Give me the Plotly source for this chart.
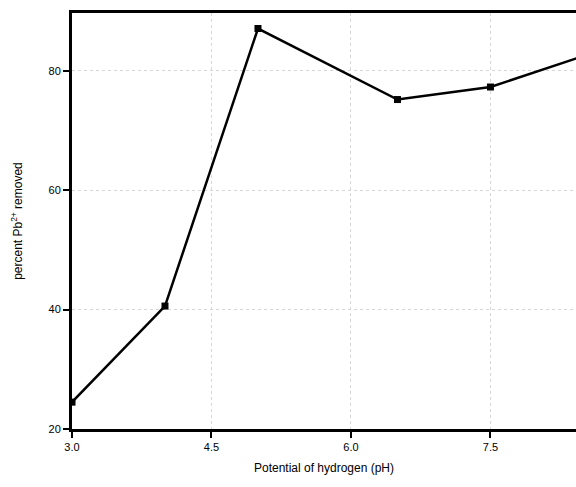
import plotly.graph_objects as go

ph = [3.0, 4.0, 5.0, 6.5, 7.5, 8.5]
pb_removed = [24.5, 40.6, 87.1, 75.2, 77.3, 82.5]
x_ticks = [3.0, 4.5, 6.0, 7.5]
x_tick_labels = ["3.0", "4.5", "6.0", "7.5"]
y_ticks = [20, 40, 60, 80]

fig = go.Figure()
fig.add_trace(go.Scatter(
    x=ph, y=pb_removed, mode="lines+markers",
    line=dict(color="black", width=2.5),
    marker=dict(symbol="square", size=7, color="black"),
    showlegend=False,
))

font = dict(family="Liberation Sans, Arial, sans-serif", color="black")
fig.update_layout(
    width=576, height=487,
    margin=dict(l=72, r=0, t=13, b=58),
    plot_bgcolor="white", paper_bgcolor="white",
    font=dict(size=11, **font),
    xaxis=dict(
        range=[3.0, 8.42], tickvals=x_ticks, ticktext=x_tick_labels,
        showline=True, linecolor="black", linewidth=3, mirror=True,
        ticks="outside", ticklen=6, tickwidth=2, tickcolor="black",
        showgrid=True, gridcolor="#d6d6d6", griddash="dot", gridwidth=1,
        zeroline=False, automargin=False,
        title=dict(text="Potential of hydrogen (pH)", font=dict(size=12, **font), standoff=12),
    ),
    yaxis=dict(
        range=[20, 89.7], tickvals=y_ticks,
        showline=True, linecolor="black", linewidth=3, mirror=True,
        ticks="outside", ticklen=6, tickwidth=2, tickcolor="black",
        showgrid=True, gridcolor="#d6d6d6", griddash="dot", gridwidth=1,
        zeroline=False, automargin=False,
        title=dict(text="percent Pb<sup>2+</sup> removed", font=dict(size=12, **font), standoff=24),
    ),
)

fig.write_html(
    "out.html",
    config={"displayModeBar": False},
    post_script="document.body.style.margin='0';document.body.style.overflow='hidden';",
)
